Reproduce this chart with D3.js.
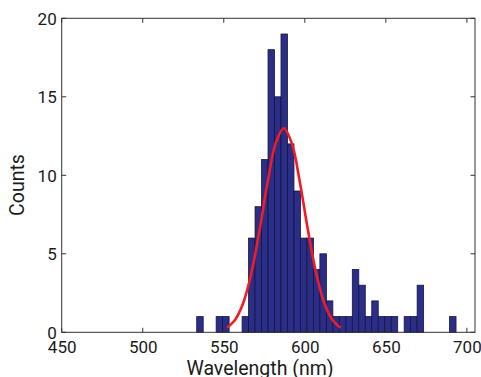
<!DOCTYPE html>
<html><head><meta charset="utf-8">
<script src="https://cdn.jsdelivr.net/npm/d3@7/dist/d3.min.js"></script>
<style>body{margin:0;background:#fff}svg{display:block}text{font-family:Roboto,"Noto Sans",sans-serif;fill:#1a1a1a}</style>
</head><body><svg id="c" width="481" height="377"></svg>
<script>
const binCenters = [535.3,539.3,543.3,547.3,551.3,555.3,559.3,563.3,567.3,571.3,
  575.3,579.3,583.3,587.3,591.3,595.3,599.3,603.3,607.3,611.3,
  615.3,619.3,623.3,627.3,631.3,635.3,639.3,643.3,647.3,651.3,
  655.3,659.3,663.3,667.3,671.3,675.3,679.3,683.3,687.3,691.3];
const counts = [1,0,0,1,1,0,0,1,6,8,
  11,18,15,19,12,9,6,6,4,5,
  2,1,1,1,4,3,1,2,1,1,
  1,0,1,1,3,0,0,0,0,1];
const binWidth = 4;
const fitX = [552,557,562,567,572,577,582,587,592,597,602,607,612,617,622];
const fitY = [0.29,0.80,1.87,3.76,6.47,9.53,12.03,13.0,12.03,9.53,6.47,3.76,1.87,0.80,0.29];
const xTicks = [450,500,550,600,650,700];
const yTicks = [0,5,10,15,20];

const svg = d3.select("#c");
const L=61.7,R=475,T=18.3,B=332.3;
const x = d3.scaleLinear().domain([450,705]).range([L,R]);
const y = d3.scaleLinear().domain([0,20]).range([B,T]);

svg.append("g").selectAll("rect").data(counts.map((c,i)=>({c,m:binCenters[i]})).filter(d=>d.c>0))
  .enter().append("rect")
  .attr("x",d=>x(d.m-binWidth/2)).attr("width",d=>x(d.m+binWidth/2)-x(d.m-binWidth/2))
  .attr("y",d=>y(d.c)).attr("height",d=>y(0)-y(d.c))
  .attr("fill","#2b2e88").attr("stroke","#15153a").attr("stroke-width",0.8);

const line = d3.line().x((d,i)=>x(fitX[i])).y(d=>y(d)).curve(d3.curveCatmullRom);
svg.append("path").attr("d",line(fitY)).attr("fill","none").attr("stroke","#f21c24").attr("stroke-width",2.6);

const ax = svg.append("g").attr("stroke","#333").attr("stroke-width",1);
ax.append("rect").attr("x",L).attr("y",T).attr("width",R-L).attr("height",B-T).attr("fill","none");
xTicks.forEach(t=>{
  ax.append("line").attr("x1",x(t)).attr("x2",x(t)).attr("y1",B).attr("y2",B-4.5);
  ax.append("line").attr("x1",x(t)).attr("x2",x(t)).attr("y1",T).attr("y2",T+4.5);
});
yTicks.forEach(t=>{
  ax.append("line").attr("x1",L).attr("x2",L+4.5).attr("y1",y(t)).attr("y2",y(t));
  ax.append("line").attr("x1",R).attr("x2",R-4.5).attr("y1",y(t)).attr("y2",y(t));
});
const xa = d3.axisBottom(x).tickValues(xTicks).tickSize(0).tickPadding(0);
svg.append("g").attr("transform",`translate(0,${B+21})`).call(xa)
  .call(g=>{g.select(".domain").remove();g.selectAll("text").attr("dy",0).attr("font-size",17).attr("font-family","Roboto,sans-serif").attr("fill","#1a1a1a");});
const ya = d3.axisLeft(y).tickValues(yTicks).tickSize(0).tickPadding(0);
svg.append("g").attr("transform",`translate(${L-5},0)`).call(ya)
  .call(g=>{g.select(".domain").remove();g.selectAll("text").attr("dy","0.35em").attr("font-size",17).attr("font-family","Roboto,sans-serif").attr("fill","#1a1a1a");});
svg.append("text").attr("x",260).attr("y",375).attr("text-anchor","middle").attr("font-size",19.5).text("Wavelength (nm)");
svg.append("text").attr("transform","translate(24,185) rotate(-90)").attr("text-anchor","middle").attr("font-size",19.5).text("Counts");
</script></body></html>
